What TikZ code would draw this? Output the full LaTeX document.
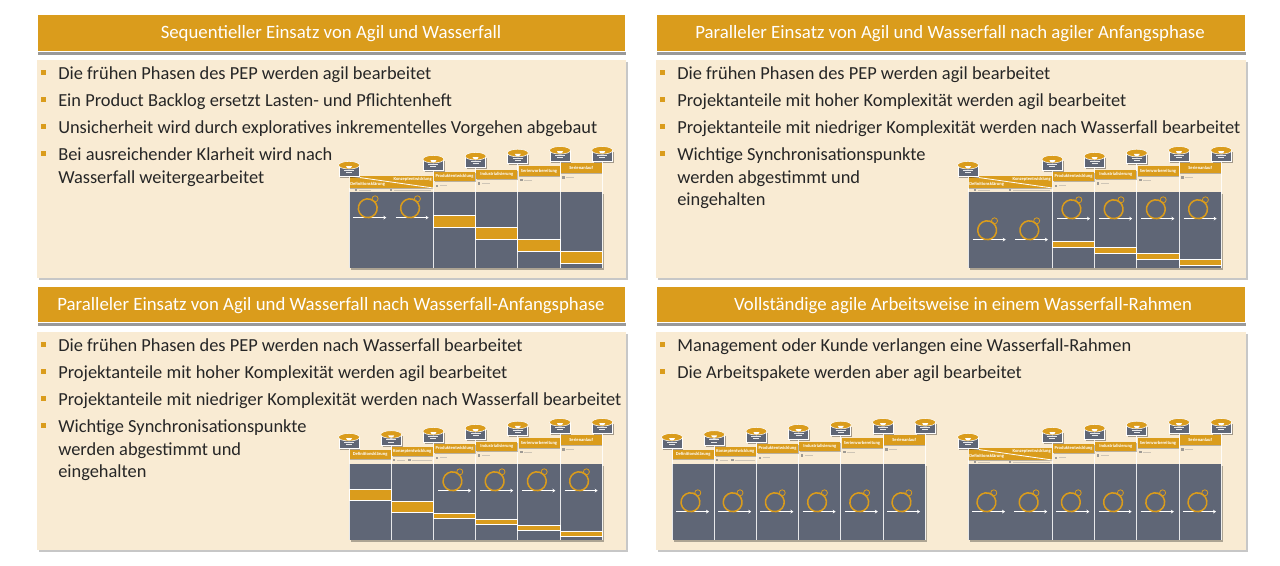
\documentclass[tikz,border=0pt]{standalone}
\usepackage{fontspec}
\setmainfont{Carlito}
\usepackage{tikz}
\usetikzlibrary{arrows.meta,shadows}
\definecolor{ochre}{HTML}{DA9C1C}
\definecolor{cream}{HTML}{F9EBD3}
\definecolor{slate}{HTML}{5F6676}
\tikzset{
  headerbar/.style={fill=ochre, draw=white, line width=0.5pt, drop shadow={shadow xshift=0.5pt, shadow yshift=-2.8pt, fill=black, opacity=0.4}},
  bodybox/.style={fill=cream, draw=none, drop shadow={shadow xshift=1.5pt, shadow yshift=-1.5pt, fill=black, opacity=0.22}},
  headertext/.style={text=white, font=\fontsize{14.1}{17}\selectfont, inner sep=0pt},
  bullettext/.style={anchor=north west, align=left, inner sep=0pt, text=black!85, font=\fontsize{13.8}{16.7}\selectfont},
  bulletmark/.style={fill=ochre, inner sep=0pt, minimum size=3.8pt},
  chartbody/.style={fill=slate, drop shadow={shadow xshift=1.6pt, shadow yshift=-1.6pt, fill=black, opacity=0.3}},
  phasebar/.style={fill=ochre, draw=white, line width=0.6pt},
  phasehead/.style={fill=ochre, drop shadow={shadow xshift=0.5pt, shadow yshift=-0.8pt, fill=black, opacity=0.25}},
  phaselabel/.style={text=white, font=\bfseries\fontsize{3.4}{3.8}\selectfont, inner sep=0pt},
  stemline/.style={draw=white, opacity=0.85, line width=0.6pt},
  mstone/.style={fill=slate, draw=white, line width=0.6pt, inner sep=0pt, minimum width=15pt, minimum height=8pt, drop shadow={shadow xshift=1.1pt, shadow yshift=-1.1pt, fill=black, opacity=0.35}},
  looparrow/.style={-{Stealth[length=2.2pt,width=2.8pt]}, draw=white, line width=0.95pt},
  loopring/.style={draw=ochre, line width=1.15pt},
  smallmark/.style={fill=gray!75!cream},
  smallline/.style={draw=gray!35!cream, line width=0.6pt}
}
% one bullet line (or block of lines)
\newcommand{\bulletline}[4]{%
  \node[bulletmark] (#1m) at (#2-14.5,#3-0.5) {};
  \node[bullettext] (#1) at (#2,#3-6.3) {#4};
}
% milestone drum with its line down to the chart floor
\newcommand{\mstonedrum}[3]{%
  \coordinate (#1end) at (#2,76);
  \node[mstone] (#1) at (#2,#3+2.5) {};
  \draw[stemline] (#1.south) -- (#1end);
  \fill[ochre, draw=white, line width=0.4pt] (#2,#3-3) ellipse (10.5 and 3.8);
  \fill[white] (#2-3,#3-2.2) arc (180:0:3 and 2.4) -- cycle;
  \draw[white!85!slate, line width=0.5pt] (#2-5,#3+2) -- (#2+5,#3+2);
  \draw[white!85!slate, line width=0.5pt] (#2-3,#3+4.5) -- (#2+3,#3+4.5);
}
% first two phases sharing one split header
\newcommand{\headdual}[1]{%
  \fill[phasehead] (0,-16) rectangle (84.4,-4);
  \draw[white, line width=0.6pt] (0,-16) -- (84.4,-4);
  \node[phaselabel, anchor=east] (#1hb) at (83,-12.6) {Konzeptentwicklung};
  \node[phaselabel, anchor=west] (#1ha) at (1,-7.6) {Definitionsklärung};
  \fill[smallmark] (5.5,-3.3) rectangle (8,-1);
  \fill[smallmark] (40.5,-3.3) rectangle (43,-1);
  \draw[smallline] (10,-2) -- (22,-2);
  \draw[smallline] (45,-2) -- (82,-2);
  \mstonedrum{#1m0}{0}{-23.8}
}
% first two phases with separate headers
\newcommand{\headsingle}[1]{%
  \fill[phasehead] (0.7,-14) rectangle (41.7,-4.7);
  \node[phaselabel] (#1ha) at (21.1,-9.3) {Definitionsklärung};
  \fill[phasehead] (42.9,-17.3) rectangle (83.9,-8);
  \node[phaselabel] (#1hb) at (63.3,-12.6) {Konzeptentwicklung};
  \fill[smallmark] (43.8,-5) rectangle (46.3,-2.7);
  \fill[smallmark] (59,-5) rectangle (61.5,-2.7);
  \draw[smallline] (48,-3.8) -- (56,-3.8);
  \draw[smallline] (63,-3.8) -- (83,-3.8);
  \mstonedrum{#1m0}{0}{-23.8}
  \mstonedrum{#1m1}{42.2}{-26.5}
}
% name, x, y, header part, bars (column/top/bottom), loops (x/y)
\newcommand{\phasechart}[6]{%
  \begin{scope}[shift={(#2,#3)}]
    \fill[chartbody] (0,0) rectangle (253.2,76);
    \foreach \col/\bartop/\barbot in {#5}
      \draw[phasebar] ({\col*42.2},\bartop) rectangle ({(\col+1)*42.2},\barbot);
    #4
    \foreach \n/\mx/\my in {2/84.4/-29.8, 3/126.6/-32.8, 4/168.8/-36, 5/211/-38.7, 6/253.2/-38.7}{
      \mstonedrum{#1m\n}{\mx}{\my}
    }
    \foreach \n/\hx/\htop/\hbot/\word in {2/84.4/-20/-10.7/Produktentwicklung, 3/126.6/-22.3/-13/Industrialisierung, 4/168.8/-25.7/-16.3/Serienvorbereitung, 5/211/-29/-19/Serienanlauf}{
      \fill[phasehead] (\hx+0.7,\htop) rectangle (\hx+41.7,\hbot);
      \node[phaselabel] (#1h\n) at (\hx+21.2,{(\htop+\hbot)/2}) {\word};
      \fill[smallmark] (\hx+2.3,\hbot+3.2) rectangle (\hx+4.8,\hbot+5.5);
      \draw[smallline] (\hx+6.3,\hbot+4.3) -- (\hx+14,\hbot+4.3);
    }
    \foreach \lx/\ly in {#6}{
      \draw[looparrow] (\lx-15,\ly+9.6) -- (\lx+18,\ly+9.6);
      \draw[loopring] (\lx-3,\ly+9.3) arc (105:-255:9.4) -- ++(6,0);
      \draw[loopring, line width=0.6pt] (\lx+6.8,\ly-9.2) circle (3);
    }
  \end{scope}
}

\begin{document}
\begin{tikzpicture}[x=0.75pt, y=-0.75pt]
  \useasboundingbox (0,0) rectangle (1280,565);
  % Upper left panel
  \fill[bodybox] (37,60) rectangle (626,278);
  \fill[headerbar] (37,14) rectangle (625,51);
  \node[headertext] (titleA) at (331,33.5) {Sequentieller Einsatz von Agil und Wasserfall};
  \bulletline{lineAa}{58}{73}{Die frühen Phasen des PEP werden agil bearbeitet}
  \bulletline{lineAb}{58}{100}{Ein Product Backlog ersetzt Lasten- und Pflichtenheft}
  \bulletline{lineAc}{58}{127}{Unsicherheit wird durch exploratives inkrementelles Vorgehen abgebaut}
  \bulletline{lineAd}{58}{154}{Bei ausreichender Klarheit wird nach\\Wasserfall weitergearbeitet}
  \phasechart{chartA}{349}{192}{\headdual{chartA}}
    {2/23.7/35, 3/35.7/47, 4/47.7/59, 5/59.7/71}
    {19.3/16, 61.6/16}

  % Upper right panel
  \fill[bodybox] (656,60) rectangle (1246,278);
  \fill[headerbar] (656,14) rectangle (1245,51);
  \node[headertext] (titleB) at (950,33.5) {Paralleler Einsatz von Agil und Wasserfall nach agiler Anfangsphase};
  \bulletline{lineBa}{677}{73}{Die frühen Phasen des PEP werden agil bearbeitet}
  \bulletline{lineBb}{677}{100}{Projektanteile mit hoher Komplexität werden agil bearbeitet}
  \bulletline{lineBc}{677}{127}{Projektanteile mit niedriger Komplexität werden nach Wasserfall bearbeitet}
  \bulletline{lineBd}{677}{154}{Wichtige Synchronisationspunkte\\werden abgestimmt und\\eingehalten}
  \phasechart{chartB}{968}{192}{\headdual{chartB}}
    {2/49.3/55, 3/55.3/61, 4/61.7/67, 5/67.7/73}
    {19.7/38, 61.9/38, 104/17, 146.2/17, 188.4/17, 230.6/17}

  % Lower left panel
  \fill[bodybox] (37,332) rectangle (626,550);
  \fill[headerbar] (37,286) rectangle (625,322);
  \node[headertext] (titleC) at (331,305.5) {Paralleler Einsatz von Agil und Wasserfall nach Wasserfall-Anfangsphase};
  \bulletline{lineCa}{58}{345}{Die frühen Phasen des PEP werden nach Wasserfall bearbeitet}
  \bulletline{lineCb}{58}{372}{Projektanteile mit hoher Komplexität werden agil bearbeitet}
  \bulletline{lineCc}{58}{399}{Projektanteile mit niedriger Komplexität werden nach Wasserfall bearbeitet}
  \bulletline{lineCd}{58}{426}{Wichtige Synchronisationspunkte\\werden abgestimmt und\\eingehalten}
  \phasechart{chartC}{349}{464}{\headsingle{chartC}}
    {0/25/36.3, 1/37/48.3, 2/49/54.3, 3/55/60.3, 4/61.3/66.7, 5/67.3/72.7}
    {104/17, 146.2/17, 188.4/17, 230.6/17}

  % Lower right panel
  \fill[bodybox] (656,332) rectangle (1246,550);
  \fill[headerbar] (656,286) rectangle (1245,322);
  \node[headertext] (titleD) at (963,305.5) {Vollständige agile Arbeitsweise in einem Wasserfall-Rahmen};
  \bulletline{lineDa}{677}{345}{Management oder Kunde verlangen eine Wasserfall-Rahmen}
  \bulletline{lineDb}{677}{372}{Die Arbeitspakete werden aber agil bearbeitet}
  \phasechart{chartD}{672}{464}{\headsingle{chartD}}
    {}
    {19/38, 61.2/38, 103.4/38, 145.6/38, 187.8/38, 230/38}
  \phasechart{chartE}{968}{464}{\headdual{chartE}}
    {}
    {19/38, 61.2/38, 103.4/38, 145.6/38, 187.8/38, 230/38}
\end{tikzpicture}
\end{document}
